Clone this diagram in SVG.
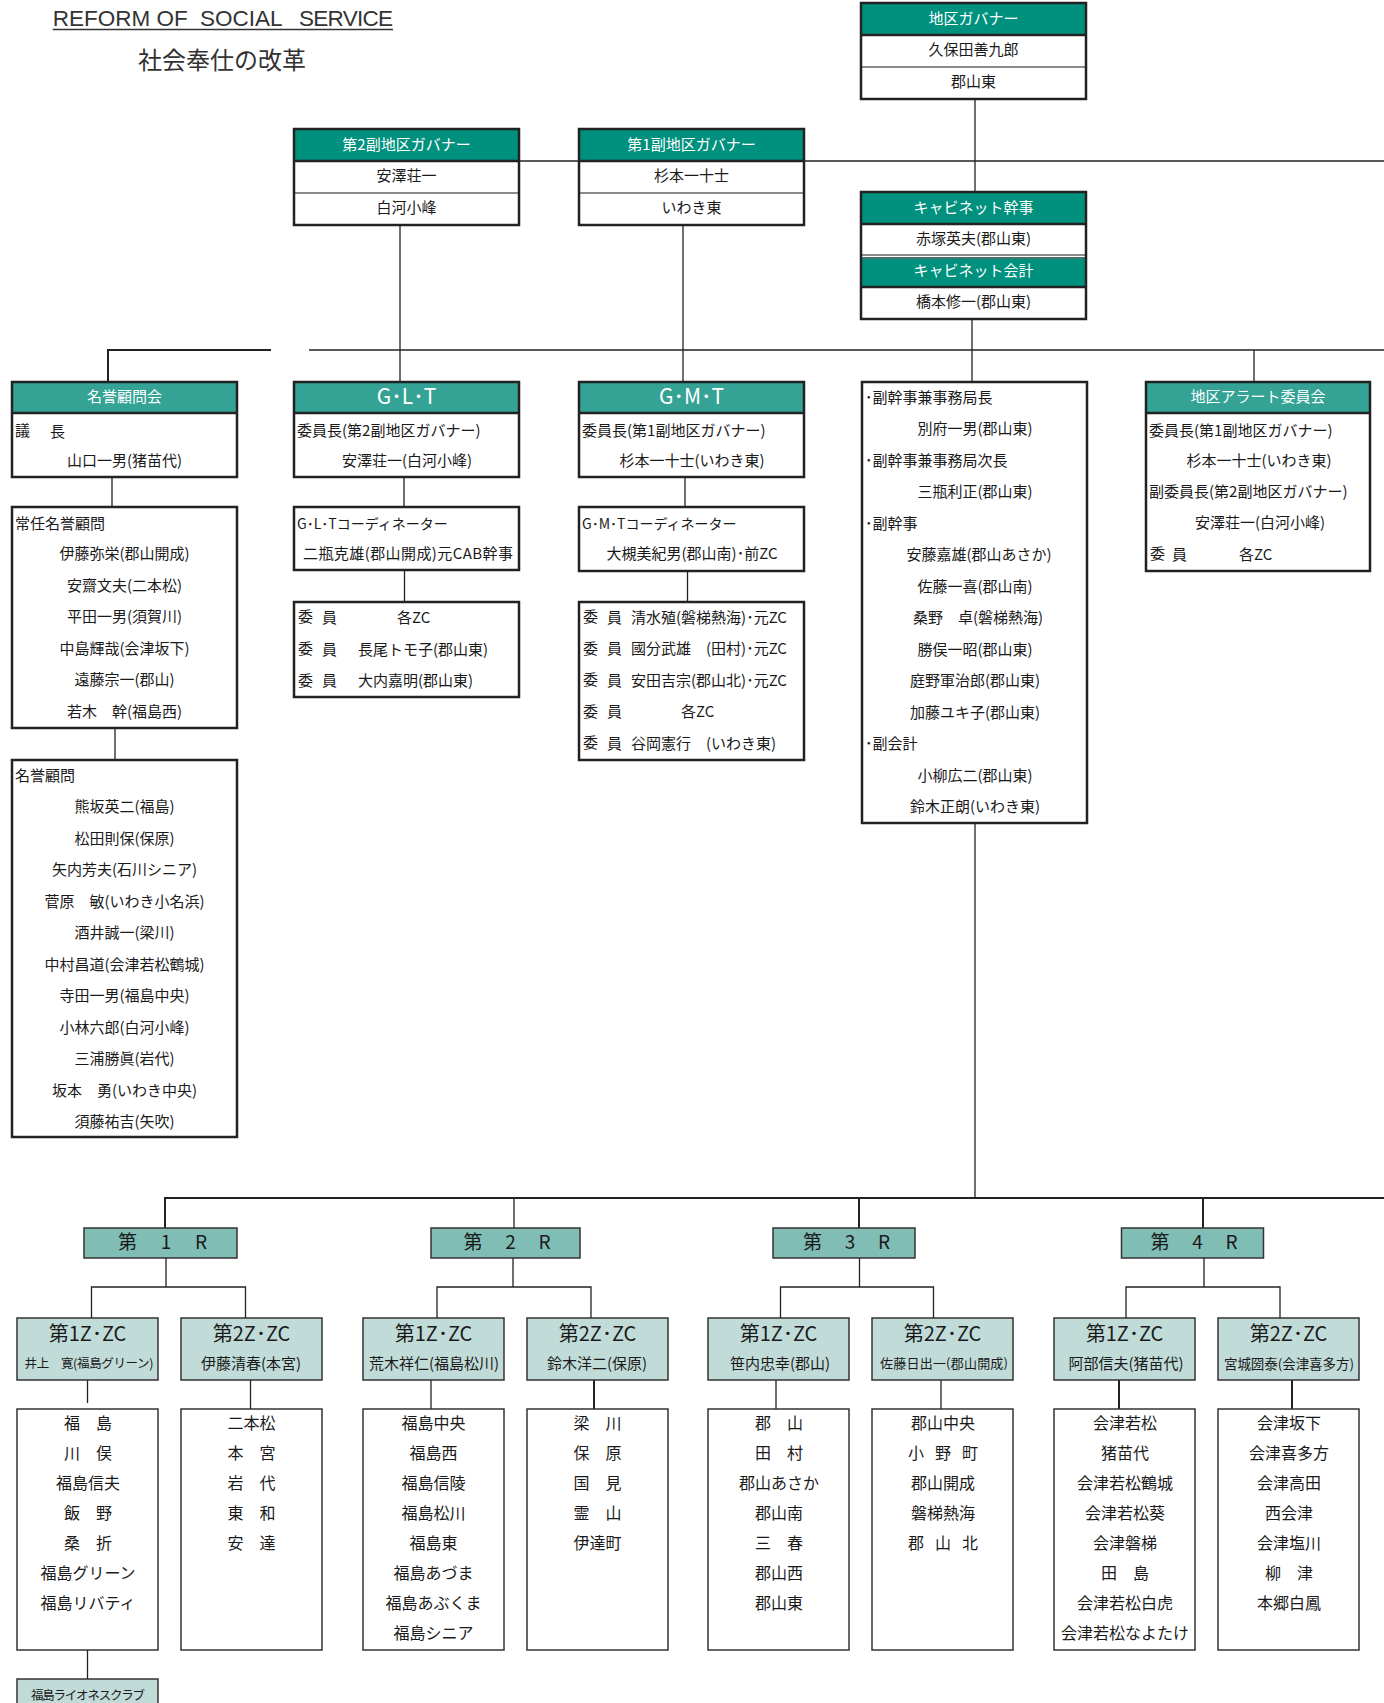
<svg xmlns="http://www.w3.org/2000/svg" width="1384" height="1703" viewBox="0 0 1384 1703">
<style>
text{font-family:"Noto Sans CJK JP","Noto Sans",sans-serif;fill:#1a1a1a;font-size:15px;dominant-baseline:central;transform:translate(0px,-2.5px)}
.c{text-anchor:middle}
.w{fill:#fff}
.big{font-size:21px}
.rt{font-size:19px}
.zt{font-size:20px}
.lt{font-size:16px}
.bg{fill:#fff}
.ol{fill:none;stroke:#222;stroke-width:2.5}
.ol2{fill:none;stroke:#333;stroke-width:1.5}
.h1{fill:#00907e}
.h2{fill:#34a396}
.dk{stroke:#222;stroke-width:2.5}
.gr{stroke:#666;stroke-width:1.5}
.ln{stroke:#222;stroke-width:1.3;fill:none}
.lnb{stroke:#222;stroke-width:2;fill:none}
.rb{fill:#80bdb5;stroke:#333;stroke-width:1.5}
.zb{fill:#c1dcd8;stroke:#333;stroke-width:1.5}
.lb{fill:#fff;stroke:#333;stroke-width:1.5}
</style>

<g id="title">
<text x="52.7" y="20.5" style="font-family:'Liberation Sans',Arial,sans-serif;font-size:22.5px;fill:#333" xml:space="preserve">REFORM OF <tspan x="200">SOCIAL </tspan><tspan x="299" textLength="94">SERVICE</tspan></text>
<line x1="52.7" y1="29.5" x2="393" y2="29.5" stroke="#333" stroke-width="1.5"/>
<text x="222" y="61" class="c" style="font-size:24px;fill:#333">社会奉仕の改革</text>
</g>

<g id="connectors">
<path class="ln" d="M975 99V192"/>
<path class="ln" d="M519 161H1384"/>
<path class="ln" d="M400 225V382"/>
<path class="ln" d="M683 225V382"/>
<path class="lnb" d="M108 382V350H271"/>
<path class="ln" d="M309 350H1384"/>
<path class="ln" d="M972 319V382"/>
<path class="ln" d="M1254 350V382"/>
<path class="ln" d="M112 477V507"/>
<path class="ln" d="M115 728V760"/>
<path class="ln" d="M404 477V507"/>
<path class="ln" d="M404.5 570V602"/>
<path class="ln" d="M685 477V507"/>
<path class="ln" d="M687.5 571V602"/>
<path class="ln" d="M975 823V1198"/>
<path class="lnb" d="M164 1198H1384"/>
<path class="lnb" d="M165 1198V1228"/>
<path class="ln" d="M514 1198V1228"/>
<path class="lnb" d="M859 1198V1228"/>
<path class="lnb" d="M1203 1198V1228"/>
<path class="ln" d="M166 1258V1287M91.5 1318V1287H245.5V1318"/>
<path class="ln" d="M513 1258V1287M437 1318V1287H591V1318"/>
<path class="ln" d="M859.5 1258V1287M780.5 1318V1287H933.5V1318"/>
<path class="ln" d="M1204 1258V1287M1126 1318V1287H1280V1318"/>
<path class="ln" d="M87.5 1380V1403"/>
<path class="ln" d="M250.5 1380V1409"/>
<path class="ln" d="M431 1380V1409"/>
<path class="lnb" d="M594 1380V1409"/>
<path class="ln" d="M776 1380V1409"/>
<path class="ln" d="M941 1380V1409"/>
<path class="lnb" d="M1119 1380V1409"/>
<path class="lnb" d="M1292 1380V1409"/>
<path class="ln" d="M87.5 1650V1679"/>
</g>

<g id="governor">
<rect class="bg" x="861" y="3" width="225" height="96"/>
<rect class="h1" x="861" y="3" width="225" height="32"/>
<line class="dk" x1="861" y1="35" x2="1086" y2="35"/>
<line class="gr" x1="861" y1="67" x2="1086" y2="67"/>
<rect class="ol" x="861" y="3" width="225" height="96"/>
<text class="c w" x="973.5" y="19.5">地区ガバナー</text>
<text class="c" x="973.5" y="51">久保田善九郎</text>
<text class="c" x="973.5" y="83">郡山東</text>
</g>

<g id="vice2">
<rect class="bg" x="294" y="129" width="225" height="96"/>
<rect class="h1" x="294" y="129" width="225" height="32"/>
<line class="dk" x1="294" y1="161" x2="519" y2="161"/>
<line class="gr" x1="294" y1="193" x2="519" y2="193"/>
<rect class="ol" x="294" y="129" width="225" height="96"/>
<text class="c w" x="406.5" y="145.5">第2副地区ガバナー</text>
<text class="c" x="406.5" y="177">安澤荘一</text>
<text class="c" x="406.5" y="208.5">白河小峰</text>
</g>

<g id="vice1">
<rect class="bg" x="579" y="129" width="225" height="96"/>
<rect class="h1" x="579" y="129" width="225" height="32"/>
<line class="dk" x1="579" y1="161" x2="804" y2="161"/>
<line class="gr" x1="579" y1="193" x2="804" y2="193"/>
<rect class="ol" x="579" y="129" width="225" height="96"/>
<text class="c w" x="691.5" y="145.5">第1副地区ガバナー</text>
<text class="c" x="691.5" y="177">杉本一十士</text>
<text class="c" x="691.5" y="208.5">いわき東</text>
</g>

<g id="cabinet">
<rect class="bg" x="861" y="192" width="225" height="127"/>
<rect class="h1" x="861" y="192" width="225" height="32"/>
<rect class="h1" x="861" y="257" width="225" height="30"/>
<line class="dk" x1="861" y1="224" x2="1086" y2="224"/>
<line class="gr" x1="861" y1="255" x2="1086" y2="255"/>
<line class="gr" x1="861" y1="258" x2="1086" y2="258"/>
<line class="dk" x1="861" y1="287" x2="1086" y2="287"/>
<rect class="ol" x="861" y="192" width="225" height="127"/>
<text class="c w" x="973.5" y="208.5">キャビネット幹事</text>
<text class="c" x="973.5" y="240">赤塚英夫(郡山東)</text>
<text class="c w" x="973.5" y="271.5">キャビネット会計</text>
<text class="c" x="973.5" y="303">橋本修一(郡山東)</text>
</g>

<g id="honor-council">
<rect class="bg" x="12" y="382" width="225" height="95"/>
<rect class="h2" x="12" y="382" width="225" height="31"/>
<line class="dk" x1="12" y1="413" x2="237" y2="413"/>
<rect class="ol" x="12" y="382" width="225" height="95"/>
<text class="c w" x="124.5" y="397.5">名誉顧問会</text>
<text x="15" y="432">議<tspan x="50">長</tspan></text>
<text class="c" x="124.5" y="462">山口一男(猪苗代)</text>
</g>

<g id="standing-advisors">
<rect class="bg" x="12" y="507" width="225" height="221"/>
<rect class="ol" x="12" y="507" width="225" height="221"/>
<text x="15" y="525">常任名誉顧問</text>
<text class="c" x="124.5" y="555">伊藤弥栄(郡山開成)</text>
<text class="c" x="124.5" y="586.5">安齋文夫(二本松)</text>
<text class="c" x="124.5" y="618">平田一男(須賀川)</text>
<text class="c" x="124.5" y="649.5">中島輝哉(会津坂下)</text>
<text class="c" x="124.5" y="681">遠藤宗一(郡山)</text>
<text class="c" x="124.5" y="712.5" xml:space="preserve">若木　幹(福島西)</text>
</g>

<g id="honor-advisors">
<rect class="bg" x="12" y="760" width="225" height="377"/>
<rect class="ol" x="12" y="760" width="225" height="377"/>
<text x="15" y="777">名誉顧問</text>
<text class="c" x="124.5" y="808">熊坂英二(福島)</text>
<text class="c" x="124.5" y="839.5">松田則保(保原)</text>
<text class="c" x="124.5" y="871">矢内芳夫(石川シニア)</text>
<text class="c" x="124.5" y="902.5" xml:space="preserve">菅原　敏(いわき小名浜)</text>
<text class="c" x="124.5" y="934">酒井誠一(梁川)</text>
<text class="c" x="124.5" y="965.5">中村昌道(会津若松鶴城)</text>
<text class="c" x="124.5" y="997">寺田一男(福島中央)</text>
<text class="c" x="124.5" y="1028.5">小林六郎(白河小峰)</text>
<text class="c" x="124.5" y="1060">三浦勝眞(岩代)</text>
<text class="c" x="124.5" y="1091.5" xml:space="preserve">坂本　勇(いわき中央)</text>
<text class="c" x="124.5" y="1123">須藤祐吉(矢吹)</text>
</g>

<g id="glt">
<rect class="bg" x="294" y="382" width="225" height="95"/>
<rect class="h2" x="294" y="382" width="225" height="31"/>
<line class="dk" x1="294" y1="413" x2="519" y2="413"/>
<rect class="ol" x="294" y="382" width="225" height="95"/>
<text class="c w big" x="406.5" y="397.5">G･L･T</text>
<text x="297" y="432">委員長(第2副地区ガバナー)</text>
<text class="c" x="407" y="462">安澤荘一(白河小峰)</text>
</g>

<g id="glt-coordinator">
<rect class="bg" x="294" y="507" width="225" height="63"/>
<rect class="ol" x="294" y="507" width="225" height="63"/>
<text x="297" y="525" style="font-size:14px">G･L･Tコーディネーター</text>
<text class="c" x="408" y="555" textLength="210">二瓶克雄(郡山開成)元CAB幹事</text>
</g>

<g id="glt-members">
<rect class="bg" x="294" y="602" width="225" height="95"/>
<rect class="ol" x="294" y="602" width="225" height="95"/>
<text x="298" y="618">委<tspan x="322">員</tspan><tspan x="397">各ZC</tspan></text>
<text x="298" y="650">委<tspan x="322">員</tspan><tspan x="358">長尾トモ子(郡山東)</tspan></text>
<text x="298" y="681.5">委<tspan x="322">員</tspan><tspan x="358">大内嘉明(郡山東)</tspan></text>
</g>

<g id="gmt">
<rect class="bg" x="579" y="382" width="225" height="95"/>
<rect class="h2" x="579" y="382" width="225" height="31"/>
<line class="dk" x1="579" y1="413" x2="804" y2="413"/>
<rect class="ol" x="579" y="382" width="225" height="95"/>
<text class="c w big" x="691.5" y="397.5">G･M･T</text>
<text x="582" y="432">委員長(第1副地区ガバナー)</text>
<text class="c" x="692" y="462">杉本一十士(いわき東)</text>
</g>

<g id="gmt-coordinator">
<rect class="bg" x="579" y="507" width="225" height="64"/>
<rect class="ol" x="579" y="507" width="225" height="64"/>
<text x="582" y="525" style="font-size:14px">G･M･Tコーディネーター</text>
<text class="c" x="692" y="555">大槻美紀男(郡山南)･前ZC</text>
</g>

<g id="gmt-members">
<rect class="bg" x="579" y="602" width="225" height="158"/>
<rect class="ol" x="579" y="602" width="225" height="158"/>
<text x="583" y="618">委<tspan x="607">員</tspan><tspan x="631">清水殖(磐梯熱海)･元ZC</tspan></text>
<text x="583" y="649.5" xml:space="preserve">委<tspan x="607">員</tspan><tspan x="631">國分武雄　(田村)･元ZC</tspan></text>
<text x="583" y="681">委<tspan x="607">員</tspan><tspan x="631">安田吉宗(郡山北)･元ZC</tspan></text>
<text x="583" y="712.5">委<tspan x="607">員</tspan><tspan x="681">各ZC</tspan></text>
<text x="583" y="744" xml:space="preserve">委<tspan x="607">員</tspan><tspan x="631">谷岡憲行　(いわき東)</tspan></text>
</g>

<g id="vice-secretaries">
<rect class="bg" x="862" y="382" width="225" height="441"/>
<rect class="ol" x="862" y="382" width="225" height="441"/>
<text x="865" y="398.5">･副幹事兼事務局長</text>
<text class="c" x="975" y="430">別府一男(郡山東)</text>
<text x="865" y="461.5">･副幹事兼事務局次長</text>
<text class="c" x="975" y="493">三瓶利正(郡山東)</text>
<text x="865" y="524.5">･副幹事</text>
<text class="c" x="979" y="556">安藤嘉雄(郡山あさか)</text>
<text class="c" x="975" y="587.5">佐藤一喜(郡山南)</text>
<text class="c" x="978" y="619" xml:space="preserve">桑野　卓(磐梯熱海)</text>
<text class="c" x="975" y="650.5">勝俣一昭(郡山東)</text>
<text class="c" x="975" y="682">庭野軍治郎(郡山東)</text>
<text class="c" x="975" y="713.5">加藤ユキ子(郡山東)</text>
<text x="865" y="745">･副会計</text>
<text class="c" x="975" y="776.5">小柳広二(郡山東)</text>
<text class="c" x="975" y="808">鈴木正朗(いわき東)</text>
</g>

<g id="alert-committee">
<rect class="bg" x="1146" y="382" width="224" height="189"/>
<rect class="h2" x="1146" y="382" width="224" height="31"/>
<line class="dk" x1="1146" y1="413" x2="1370" y2="413"/>
<rect class="ol" x="1146" y="382" width="224" height="189"/>
<text class="c w" x="1258" y="397.5">地区アラート委員会</text>
<text x="1149" y="432">委員長(第1副地区ガバナー)</text>
<text class="c" x="1259" y="462">杉本一十士(いわき東)</text>
<text x="1149" y="493">副委員長(第2副地区ガバナー)</text>
<text class="c" x="1260" y="524">安澤荘一(白河小峰)</text>
<text x="1150" y="555">委<tspan x="1172">員</tspan><tspan x="1239">各ZC</tspan></text>
</g>

<g id="r1">
<rect class="rb" x="84" y="1228" width="153" height="30"/>
<text class="c rt" x="162.5" y="1243" textLength="89" xml:space="preserve">第　1　R</text>
</g>
<g id="r2">
<rect class="rb" x="431" y="1228" width="149" height="30"/>
<text class="c rt" x="507" y="1243" textLength="87" xml:space="preserve">第　2　R</text>
</g>
<g id="r3">
<rect class="rb" x="773" y="1228" width="142" height="30"/>
<text class="c rt" x="846.5" y="1243" textLength="87" xml:space="preserve">第　3　R</text>
</g>
<g id="r4">
<rect class="rb" x="1121.5" y="1228" width="142" height="30"/>
<text class="c rt" x="1194" y="1243" textLength="87" xml:space="preserve">第　4　R</text>
</g>

<g id="zc-1-1">
<rect class="zb" x="17" y="1318" width="141" height="62"/>
<text class="c zt" x="87.5" y="1335">第1Z･ZC</text>
<text class="c" x="89" y="1365" style="font-size:12.5px" textLength="129" xml:space="preserve">井上　寛(福島グリーン)</text>
</g>
<g id="zc-1-2">
<rect class="zb" x="181" y="1318" width="141" height="62"/>
<text class="c zt" x="251.5" y="1335">第2Z･ZC</text>
<text class="c" x="251" y="1365">伊藤清春(本宮)</text>
</g>
<g id="zc-2-1">
<rect class="zb" x="363" y="1318" width="141" height="62"/>
<text class="c zt" x="433.5" y="1335">第1Z･ZC</text>
<text class="c" x="434" y="1365">荒木祥仁(福島松川)</text>
</g>
<g id="zc-2-2">
<rect class="zb" x="527" y="1318" width="141" height="62"/>
<text class="c zt" x="597.5" y="1335">第2Z･ZC</text>
<text class="c" x="597" y="1365">鈴木洋二(保原)</text>
</g>
<g id="zc-3-1">
<rect class="zb" x="708" y="1318" width="141" height="62"/>
<text class="c zt" x="778.5" y="1335">第1Z･ZC</text>
<text class="c" x="780" y="1365">笹内忠幸(郡山)</text>
</g>
<g id="zc-3-2">
<rect class="zb" x="872" y="1318" width="141" height="62"/>
<text class="c zt" x="942.5" y="1335">第2Z･ZC</text>
<text class="c" x="944" y="1365" style="font-size:13px" textLength="128">佐藤日出一(郡山開成)</text>
</g>
<g id="zc-4-1">
<rect class="zb" x="1054" y="1318" width="141" height="62"/>
<text class="c zt" x="1124.5" y="1335">第1Z･ZC</text>
<text class="c" x="1126" y="1365">阿部信夫(猪苗代)</text>
</g>
<g id="zc-4-2">
<rect class="zb" x="1218" y="1318" width="141" height="62"/>
<text class="c zt" x="1288.5" y="1335">第2Z･ZC</text>
<text class="c" x="1289" y="1365" style="font-size:13.5px" textLength="130">宮城圀泰(会津喜多方)</text>
</g>

<g id="clubs-1-1">
<rect class="lb" x="17" y="1409" width="141" height="241"/>
<text class="c lt" x="88" y="1424.5" xml:space="preserve">福　島</text>
<text class="c lt" x="88" y="1454.5" xml:space="preserve">川　俣</text>
<text class="c lt" x="88" y="1484.5">福島信夫</text>
<text class="c lt" x="88" y="1514.5" xml:space="preserve">飯　野</text>
<text class="c lt" x="88" y="1544.5" xml:space="preserve">桑　折</text>
<text class="c lt" x="88" y="1574.5">福島グリーン</text>
<text class="c lt" x="88" y="1604.5">福島リバティ</text>
</g>
<g id="clubs-1-2">
<rect class="lb" x="181" y="1409" width="141" height="241"/>
<text class="c lt" x="251.5" y="1424.5">二本松</text>
<text class="c lt" x="251.5" y="1454.5" xml:space="preserve">本　宮</text>
<text class="c lt" x="251.5" y="1484.5" xml:space="preserve">岩　代</text>
<text class="c lt" x="251.5" y="1514.5" xml:space="preserve">東　和</text>
<text class="c lt" x="251.5" y="1544.5" xml:space="preserve">安　達</text>
</g>
<g id="clubs-2-1">
<rect class="lb" x="363" y="1409" width="141" height="241"/>
<text class="c lt" x="433.5" y="1424.5">福島中央</text>
<text class="c lt" x="433.5" y="1454.5">福島西</text>
<text class="c lt" x="433.5" y="1484.5">福島信陵</text>
<text class="c lt" x="433.5" y="1514.5">福島松川</text>
<text class="c lt" x="433.5" y="1544.5">福島東</text>
<text class="c lt" x="433.5" y="1574.5">福島あづま</text>
<text class="c lt" x="433.5" y="1604.5">福島あぶくま</text>
<text class="c lt" x="433.5" y="1634.5">福島シニア</text>
</g>
<g id="clubs-2-2">
<rect class="lb" x="527" y="1409" width="141" height="241"/>
<text class="c lt" x="597.5" y="1424.5" xml:space="preserve">梁　川</text>
<text class="c lt" x="597.5" y="1454.5" xml:space="preserve">保　原</text>
<text class="c lt" x="597.5" y="1484.5" xml:space="preserve">国　見</text>
<text class="c lt" x="597.5" y="1514.5" xml:space="preserve">霊　山</text>
<text class="c lt" x="597.5" y="1544.5">伊達町</text>
</g>
<g id="clubs-3-1">
<rect class="lb" x="708" y="1409" width="141" height="241"/>
<text class="c lt" x="779" y="1424.5" xml:space="preserve">郡　山</text>
<text class="c lt" x="779" y="1454.5" xml:space="preserve">田　村</text>
<text class="c lt" x="779" y="1484.5">郡山あさか</text>
<text class="c lt" x="779" y="1514.5">郡山南</text>
<text class="c lt" x="779" y="1544.5" xml:space="preserve">三　春</text>
<text class="c lt" x="779" y="1574.5">郡山西</text>
<text class="c lt" x="779" y="1604.5">郡山東</text>
</g>
<g id="clubs-3-2">
<rect class="lb" x="872" y="1409" width="141" height="241"/>
<text class="c lt" x="943" y="1424.5">郡山中央</text>
<text class="c lt" x="943" y="1454.5" textLength="70" xml:space="preserve">小　野　町</text>
<text class="c lt" x="943" y="1484.5">郡山開成</text>
<text class="c lt" x="943" y="1514.5">磐梯熱海</text>
<text class="c lt" x="943" y="1544.5" textLength="70" xml:space="preserve">郡　山　北</text>
</g>
<g id="clubs-4-1">
<rect class="lb" x="1054" y="1409" width="141" height="241"/>
<text class="c lt" x="1125" y="1424.5">会津若松</text>
<text class="c lt" x="1125" y="1454.5">猪苗代</text>
<text class="c lt" x="1125" y="1484.5">会津若松鶴城</text>
<text class="c lt" x="1125" y="1514.5">会津若松葵</text>
<text class="c lt" x="1125" y="1544.5">会津磐梯</text>
<text class="c lt" x="1125" y="1574.5" xml:space="preserve">田　島</text>
<text class="c lt" x="1125" y="1604.5">会津若松白虎</text>
<text class="c lt" x="1125" y="1634.5">会津若松なよたけ</text>
</g>
<g id="clubs-4-2">
<rect class="lb" x="1218" y="1409" width="141" height="241"/>
<text class="c lt" x="1289" y="1424.5">会津坂下</text>
<text class="c lt" x="1289" y="1454.5">会津喜多方</text>
<text class="c lt" x="1289" y="1484.5">会津高田</text>
<text class="c lt" x="1289" y="1514.5">西会津</text>
<text class="c lt" x="1289" y="1544.5">会津塩川</text>
<text class="c lt" x="1289" y="1574.5" xml:space="preserve">柳　津</text>
<text class="c lt" x="1289" y="1604.5">本郷白鳳</text>
</g>

<g id="lioness">
<rect class="zb" x="17" y="1679" width="141" height="40"/>
<text class="c" x="88" y="1697" style="font-size:12.5px" textLength="114">福島ライオネスクラブ</text>
</g>
</svg>
